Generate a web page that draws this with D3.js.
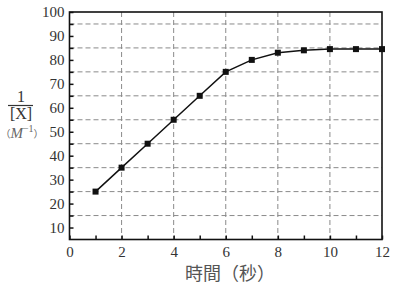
<!DOCTYPE html>
<html>
<head>
<meta charset="utf-8">
<script src="https://cdn.jsdelivr.net/npm/d3@7"></script>
<style>
  body { margin: 0; background: #fff; }
  text { font-family: "Liberation Serif", "DejaVu Serif", serif; }
</style>
</head>
<body>
<svg class="chart"></svg>
<script>
//data
var times = [1, 2, 3, 4, 5, 6, 7, 8, 9, 10, 11, 12];
var invX = [25, 35, 45, 55, 65, 75, 80, 83, 84, 84.5, 84.5, 84.5];
var yGrid = [15, 25, 35, 45, 55, 65, 75, 85, 95];
var xGrid = [2, 4, 6, 8, 10];

var width = 396, height = 285;
var margin = {top: 12, left: 69.5, right: 14, bottom: 45.5};
var w = width - margin.left - margin.right;
var h = height - margin.top - margin.bottom;

var svg = d3.select(".chart")
    .attr("width", width)
    .attr("height", height);
var g = svg.append("g")
    .attr("transform", "translate(" + margin.left + "," + margin.top + ")");

var x = d3.scaleLinear().domain([0, 12]).range([0, w]);
var y = d3.scaleLinear().domain([5, 100]).range([h, 0]);

//dashed grid
g.selectAll(".hg").data(yGrid).enter().append("line")
    .attr("x1", 0).attr("x2", w)
    .attr("y1", d => y(d)).attr("y2", d => y(d))
    .style("stroke", "#8a8a8a").style("stroke-width", 1)
    .style("stroke-dasharray", "5,3");
g.selectAll(".vg").data(xGrid).enter().append("line")
    .attr("x1", d => x(d)).attr("x2", d => x(d))
    .attr("y1", 0).attr("y2", h)
    .style("stroke", "#8a8a8a").style("stroke-width", 1)
    .style("stroke-dasharray", "5,3");

//axes, ticks inward
var xAxis = g.append("g")
    .attr("transform", "translate(0," + h + ")")
    .call(d3.axisBottom(x).tickValues(d3.range(0, 13)).tickSize(-4)
        .tickPadding(7).tickFormat(d => d % 2 === 0 ? d : ""));
var yAxis = g.append("g")
    .call(d3.axisLeft(y).tickValues(d3.range(10, 101, 5)).tickSize(-4)
        .tickPadding(5).tickFormat(d => d % 10 === 0 ? d : ""));
[xAxis, yAxis].forEach(a => {
    a.attr("font-family", null);
    a.select(".domain").remove();
    a.selectAll("line").style("stroke", "#111").style("stroke-width", 1.5);
    a.selectAll("text").style("font-size", "15px").style("fill", "#333");
});
xAxis.selectAll("text").attr("dy", "0.71em");

//frame
g.append("rect")
    .attr("x", 0).attr("y", 0).attr("width", w).attr("height", h)
    .style("fill", "none").style("stroke", "#111").style("stroke-width", 1.6);

//line
g.append("path")
    .datum(times)
    .style("fill", "none")
    .style("stroke", "#111")
    .style("stroke-width", 1.5)
    .attr("d", d3.line()
        .x((d) => x(d))
        .y((d, i) => y(invX[i])));

//square markers
g.append("g").selectAll("rect")
    .data(times)
    .enter()
    .append("rect")
    .attr("x", d => x(d) - 3)
    .attr("y", (d, i) => y(invX[i]) - 3)
    .attr("width", 6).attr("height", 6)
    .style("fill", "#111");

//x title
svg.append("text")
    .attr("x", 230).attr("y", 280)
    .attr("text-anchor", "middle")
    .style("font-size", "18px").style("fill", "#555")
    .style("font-family", "Noto Sans CJK TC, serif")
    .text("時間（秒）");

//y title as fraction
svg.append("text")
    .attr("x", 21).attr("y", 102)
    .attr("text-anchor", "middle")
    .style("font-size", "16px").style("fill", "#333")
    .text("1");
svg.append("line")
    .attr("x1", 8).attr("x2", 33).attr("y1", 105.5).attr("y2", 105.5)
    .style("stroke", "#333").style("stroke-width", 1.2);
svg.append("text")
    .attr("x", 21).attr("y", 119)
    .attr("text-anchor", "middle")
    .style("font-size", "16px").style("fill", "#333")
    .text("[X]");
var yl = svg.append("text")
    .attr("x", 22).attr("y", 138)
    .attr("text-anchor", "middle")
    .style("font-size", "15px").style("fill", "#666");
yl.append("tspan").style("font-family", "Noto Sans CJK TC, serif").style("font-size", "10px").text("（");
yl.append("tspan").style("font-style", "italic").text("M");
yl.append("tspan").attr("dy", -6).style("font-size", "10px").text("−1");
yl.append("tspan").attr("dy", 6).style("font-family", "Noto Sans CJK TC, serif").style("font-size", "10px").text("）");
</script>
</body>
</html>
